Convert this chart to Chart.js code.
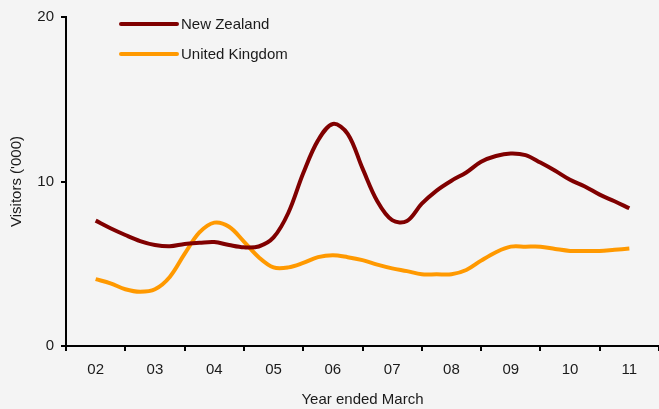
<!DOCTYPE html>
<html>
<head>
<meta charset="utf-8">
<script src="https://cdn.jsdelivr.net/npm/chart.js@4.4.1/dist/chart.umd.min.js"></script>
<style>
  html, body { margin: 0; padding: 0; background: #f4f4f4; }
  #wrap { width: 659px; height: 409px; }
</style>
</head>
<body>
<div id="wrap"><canvas id="content" width="659" height="409"></canvas></div>
<script>
// year ended March, one value per quarter from 02 through 11
var yearLabels = ["02", "03", "04", "05", "06", "07", "08", "09", "10", "11"];
var yTicks = [0, 10, 20];

var nzVisitors = [
  7.62, 7.16, 6.75, 6.38,
  6.14, 6.06, 6.2, 6.27,
  6.32, 6.14, 6.0, 6.05,
  6.6, 8.1, 10.5, 12.5,
  13.5, 12.9, 10.8, 8.8,
  7.65, 7.6, 8.65, 9.45,
  10.05, 10.55, 11.2, 11.55,
  11.7, 11.6, 11.15, 10.65,
  10.1, 9.7, 9.2, 8.8,
  8.37
];
var ukVisitors = [
  4.07, 3.81, 3.45, 3.3,
  3.45, 4.2, 5.6, 6.9,
  7.5, 7.25, 6.35, 5.4,
  4.78, 4.78, 5.05, 5.4,
  5.52, 5.4, 5.22, 4.95,
  4.72, 4.55, 4.36, 4.36,
  4.36, 4.62, 5.19, 5.7,
  6.04, 6.04, 6.04, 5.9,
  5.78, 5.78, 5.78, 5.85,
  5.92
];

var seriesNames = ["New Zealand", "United Kingdom"];
var seriesColors = ["#800000", "#ff9900"];

var fontFamily = "'Liberation Sans', Arial, sans-serif";
var fontSize = 15;
var textColor = "#1a1a1a";

function toPoints(values) {
  // first value sits on year 02, then one step per quarter
  return values.map(function (v, i) {
    return { x: 2 + i / 4, y: v };
  });
}

// legend drawn as two stacked rows, like the original
var lineLegend = {
  id: "lineLegend",
  afterDraw: function (chart) {
    var ctx = chart.ctx;
    ctx.save();
    chart.data.datasets.forEach(function (ds, i) {
      var y = 24 + i * 30;
      ctx.strokeStyle = ds.borderColor;
      ctx.lineWidth = 4;
      ctx.lineCap = "round";
      ctx.beginPath();
      ctx.moveTo(121, y);
      ctx.lineTo(177, y);
      ctx.stroke();
      ctx.fillStyle = textColor;
      ctx.font = fontSize + "px " + fontFamily;
      ctx.textBaseline = "middle";
      ctx.fillText(ds.label, 181, y + 1);
    });
    ctx.restore();
  }
};

new Chart("content", {
  type: "line",
  data: {
    datasets: [
      {
        label: seriesNames[0],
        data: toPoints(nzVisitors),
        borderColor: seriesColors[0],
        borderWidth: 4,
        pointRadius: 0,
        tension: 0.35
      },
      {
        label: seriesNames[1],
        data: toPoints(ukVisitors),
        borderColor: seriesColors[1],
        borderWidth: 4,
        pointRadius: 0,
        tension: 0.35
      }
    ]
  },
  options: {
    responsive: false,
    animation: false,
    layout: { padding: { top: 17, right: 0, left: 0, bottom: 0 } },
    plugins: {
      legend: { display: false },
      tooltip: { enabled: false }
    },
    scales: {
      x: {
        type: "linear",
        position: "bottom",
        weight: 0,
        min: 1.5,
        max: 11.5,
        afterBuildTicks: function (scale) {
          scale.ticks = yearLabels.map(function (l, i) {
            return { value: 1.5 + i };
          }).concat([{ value: 11.5 }]);
        },
        afterFit: function (scale) { scale.height = 8; },
        ticks: { display: false },
        grid: {
          display: true,
          drawOnChartArea: false,
          drawTicks: true,
          tickLength: 5,
          color: "#000",
          lineWidth: 2
        },
        border: { display: true, color: "#000", width: 2 }
      },
      xLabels: {
        type: "linear",
        position: "bottom",
        weight: 1,
        min: 1.5,
        max: 11.5,
        afterBuildTicks: function (scale) {
          scale.ticks = yearLabels.map(function (l, i) {
            return { value: 2 + i };
          });
        },
        afterFit: function (scale) { scale.height = 55; },
        ticks: {
          padding: 7,
          maxRotation: 0,
          autoSkip: false,
          color: textColor,
          font: { family: fontFamily, size: fontSize },
          callback: function (value, index) { return yearLabels[index]; }
        },
        grid: { display: false, drawTicks: false, tickLength: 0 },
        border: { display: false },
        title: {
          display: true,
          text: "Year ended March",
          color: textColor,
          font: { family: fontFamily, size: fontSize },
          padding: { top: 0, bottom: 0 }
        }
      },
      y: {
        position: "left",
        min: 0,
        max: 20,
        afterBuildTicks: function (scale) {
          scale.ticks = yTicks.map(function (v) { return { value: v }; });
        },
        afterFit: function (scale) { scale.width = 66; },
        ticks: {
          padding: 7,
          color: textColor,
          font: { family: fontFamily, size: fontSize }
        },
        grid: {
          display: true,
          drawOnChartArea: false,
          drawTicks: true,
          tickLength: 5,
          color: "#000",
          lineWidth: 2
        },
        border: { display: true, color: "#000", width: 2 },
        title: {
          display: true,
          text: "Visitors ('000)",
          color: textColor,
          font: { family: fontFamily, size: fontSize },
          padding: { top: 8, bottom: 0 }
        }
      }
    }
  },
  plugins: [lineLegend]
});
</script>
</body>
</html>
